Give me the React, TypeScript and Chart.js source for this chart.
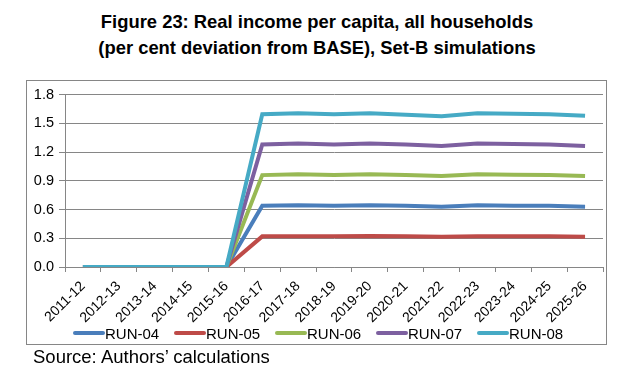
import React, { useEffect, useRef } from "react";
import { Chart, registerables } from "chart.js";

Chart.register(...registerables);

const categories = [
  "2011-12", "2012-13", "2013-14", "2014-15", "2015-16", "2016-17", "2017-18", "2018-19",
  "2019-20", "2020-21", "2021-22", "2022-23", "2023-24", "2024-25", "2025-26",
];

const run04 = [0, 0, 0, 0, 0, 0.64, 0.645, 0.64, 0.645, 0.64, 0.63, 0.645, 0.64, 0.64, 0.63];
const run05 = [0, 0, 0, 0, 0, 0.32, 0.32, 0.32, 0.325, 0.32, 0.315, 0.32, 0.32, 0.32, 0.315];
const run06 = [0, 0, 0, 0, 0, 0.96, 0.97, 0.96, 0.97, 0.96, 0.95, 0.97, 0.965, 0.96, 0.95];
const run07 = [0, 0, 0, 0, 0, 1.28, 1.29, 1.28, 1.29, 1.28, 1.265, 1.29, 1.285, 1.28, 1.265];
const run08 = [0, 0, 0, 0, 0, 1.595, 1.605, 1.595, 1.605, 1.59, 1.575, 1.605, 1.6, 1.595, 1.58];

const seriesNames = ["RUN-04", "RUN-05", "RUN-06", "RUN-07", "RUN-08"];
const seriesValues = [run04, run05, run06, run07, run08];
const seriesColors = ["#4A7EBB", "#BE4B48", "#98B954", "#7D60A0", "#46AAC5"];

const yTicks = [0, 0.3, 0.6, 0.9, 1.2, 1.5, 1.8];

const FONT = "'Liberation Sans', Arial, sans-serif";
const GRID = "#868686";

export default function App() {
  const canvasRef = useRef<HTMLCanvasElement | null>(null);

  useEffect(() => {
    const canvas = canvasRef.current;
    if (!canvas) return;
    const chart = new Chart(canvas, {
      type: "line",
      data: {
        labels: categories,
        datasets: seriesValues.map((vals, i) => ({
          label: seriesNames[i],
          data: vals,
          borderColor: seriesColors[i],
          backgroundColor: seriesColors[i],
          borderWidth: 4,
          pointRadius: 0,
          tension: 0,
          fill: false,
          order: seriesValues.length - i,
        })),
      },
      options: {
        animation: false,
        responsive: false,
        maintainAspectRatio: false,
        layout: { autoPadding: false, padding: { top: 8, right: 2, left: 0, bottom: 0 } },
        plugins: {
          legend: { display: false },
          title: { display: false },
          tooltip: { enabled: false },
        },
        scales: {
          x: {
            type: "category",
            offset: true,
            grid: {
              offset: true,
              drawOnChartArea: false,
              drawTicks: true,
              tickLength: 5,
              color: GRID,
            },
            border: { display: true, color: GRID, width: 1 },
            ticks: {
              autoSkip: false,
              maxRotation: 45,
              minRotation: 45,
              padding: 6,
              color: "#000",
              font: { family: FONT, size: 14 },
            },
            afterFit: (scale: any) => {
              scale.height = 59;
            },
          },
          y: {
            min: 0,
            max: 1.8,
            afterBuildTicks: (scale: any) => {
              scale.ticks = yTicks.map((v) => ({ value: v }));
            },
            grid: {
              color: GRID,
              lineWidth: 1,
              drawTicks: true,
              tickLength: 6,
            },
            border: { display: true, color: GRID, width: 1 },
            ticks: {
              padding: 5,
              color: "#000",
              font: { family: FONT, size: 14.5 },
              callback: (v: any) => Number(v).toFixed(1),
            },
            afterFit: (scale: any) => {
              scale.width = 38;
            },
          },
        },
      },
    });
    return () => chart.destroy();
  }, []);

  return (
    <div
      style={{
        position: "fixed",
        left: 0,
        top: 0,
        width: 636,
        height: 387,
        background: "#fff",
        fontFamily: FONT,
        color: "#000",
      }}
    >
      <div
        style={{
          position: "absolute",
          left: 0,
          top: 9,
          width: 634,
          textAlign: "center",
          fontWeight: "bold",
          fontSize: 18.4,
          lineHeight: "26px",
        }}
      >
        <div>Figure 23: Real income per capita, all households</div>
        <div>(per cent deviation from BASE), Set-B simulations</div>
      </div>
      <div
        style={{
          position: "absolute",
          left: 26,
          top: 80,
          width: 579,
          height: 263,
          border: `1px solid ${GRID}`,
        }}
      />
      <canvas
        ref={canvasRef}
        width={578}
        height={245}
        style={{ position: "absolute", left: 27, top: 81, width: 578, height: 245 }}
      />
      <div
        style={{
          position: "absolute",
          left: 73,
          top: 324,
          height: 18,
          display: "flex",
          alignItems: "center",
          fontSize: 15,
        }}
      >
        {seriesNames.map((name, i) => (
          <div
            key={name}
            style={{ display: "flex", alignItems: "center", width: i < seriesNames.length - 1 ? 101 : undefined }}
          >
            <div
              style={{
                width: 32,
                height: 4,
                borderRadius: 2,
                background: seriesColors[i],
              }}
            />
            <span>{name}</span>
          </div>
        ))}
      </div>
      <div
        style={{
          position: "absolute",
          left: 33,
          top: 346,
          fontSize: 18.5,
          lineHeight: "22px",
        }}
      >
        Source: Authors’ calculations
      </div>
    </div>
  );
}
